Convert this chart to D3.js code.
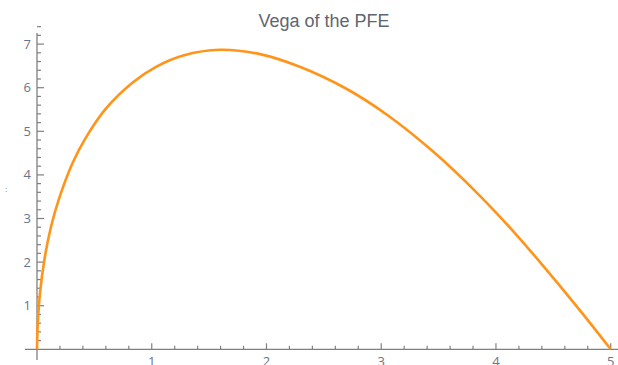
<!DOCTYPE html>
<html>
<head>
<meta charset="utf-8">
<script src="https://cdn.jsdelivr.net/npm/d3@7"></script>
<style>
  body { margin: 0; background: #fff; }
  svg { display: block; }
</style>
</head>
<body>
<script>
// ********************** DATA **************************************************************
var titleText = "Vega of the PFE";
// time values
var tValues = [0, 0.006, 0.026, 0.064, 0.122, 0.195, 0.311, 0.427, 0.6, 0.834, 1.037, 1.275, 1.595, 1.943, 2.29, 2.7, 3.05, 3.45, 3.86, 4.18, 4.47, 4.76, 5.0];
// vega values
var vegaValues = [0, 0.55, 1.28, 2.05, 2.81, 3.48, 4.28, 4.86, 5.52, 6.12, 6.48, 6.74, 6.87, 6.77, 6.48, 5.97, 5.38, 4.54, 3.52, 2.62, 1.73, 0.8, 0];
var xTickLabels = [1, 2, 3, 4, 5];
var yTickLabels = [1, 2, 3, 4, 5, 6, 7];

// ********************** CHART ************************************************************
var width = 618, height = 365;
var axisColor = "#808080";
var labelColor = "#6b7584";

var svg = d3.select("body").append("svg")
    .attr("width", width)
    .attr("height", height);

var x = d3.scaleLinear().domain([0, 5]).range([37, 610.7]);
var y = d3.scaleLinear().domain([0, 7]).range([349.3, 44.1]);

// title
svg.append("text")
    .attr("x", 324)
    .attr("y", 27)
    .attr("text-anchor", "middle")
    .text(titleText)
    .style("font-size", "18px")
    .style("font-family", "'Liberation Sans', Arial, sans-serif")
    .style("fill", "#5f6670");

// x axis line
svg.append("line")
    .attr("x1", 25).attr("x2", 618)
    .attr("y1", y(0)).attr("y2", y(0))
    .attr("stroke", axisColor).attr("stroke-width", 1.3);

// y axis line
svg.append("line")
    .attr("x1", x(0)).attr("x2", x(0))
    .attr("y1", 33).attr("y2", 360)
    .attr("stroke", axisColor).attr("stroke-width", 1.3);

// x ticks (minor every 0.2)
var xMinor = d3.range(1, 26).map(function(i) { return i * 0.2; }).concat([5.2]);
svg.selectAll(".xtick")
    .data(xMinor)
    .enter().append("line")
    .attr("x1", function(d) { return x(d); })
    .attr("x2", function(d) { return x(d); })
    .attr("y1", y(0))
    .attr("y2", function(d, i) { return (i + 1) % 5 === 0 ? y(0) - 6 : y(0) - 3.5; })
    .attr("stroke", axisColor).attr("stroke-width", 1.2);

// y ticks (minor every 0.2)
var yMinor = d3.range(1, 36).map(function(i) { return i * 0.2; }).concat([7.2, 7.4]);
svg.selectAll(".ytick")
    .data(yMinor)
    .enter().append("line")
    .attr("y1", function(d) { return y(d); })
    .attr("y2", function(d) { return y(d); })
    .attr("x1", x(0))
    .attr("x2", function(d, i) { return (i + 1) % 5 === 0 ? x(0) + 7 : x(0) + 4; })
    .attr("stroke", axisColor).attr("stroke-width", 1.2);

// x tick labels (cut off at the bottom edge, as in the original)
svg.selectAll(".xlabel")
    .data(xTickLabels)
    .enter().append("text")
    .attr("x", function(d) { return x(d); })
    .attr("y", y(0) + 17)
    .attr("text-anchor", "middle")
    .text(function(d) { return d; })
    .style("font-size", "13px")
    .style("font-family", "'Open Sans', Arial, sans-serif")
    .style("fill", labelColor);

// y tick labels
svg.selectAll(".ylabel")
    .data(yTickLabels)
    .enter().append("text")
    .attr("x", 31)
    .attr("y", function(d) { return y(d) + 4.5; })
    .attr("text-anchor", "end")
    .text(function(d) { return d; })
    .style("font-size", "13px")
    .style("font-family", "'Open Sans', Arial, sans-serif")
    .style("fill", labelColor);

// small stray mark on the left
svg.append("text")
    .attr("x", 5)
    .attr("y", 192)
    .text(":")
    .style("font-size", "8px")
    .style("font-family", "Arial, sans-serif")
    .style("fill", "#3a6fd8");

// the curve
var points = tValues.map(function(t, i) { return [t, vegaValues[i]]; });
var line = d3.line()
    .x(function(d) { return x(d[0]); })
    .y(function(d) { return y(d[1]); })
    .curve(d3.curveCatmullRom.alpha(0.5));

svg.append("path")
    .datum(points)
    .attr("d", line)
    .attr("fill", "none")
    .attr("stroke", "#ff9419")
    .attr("stroke-width", 2.6);
</script>
</body>
</html>
